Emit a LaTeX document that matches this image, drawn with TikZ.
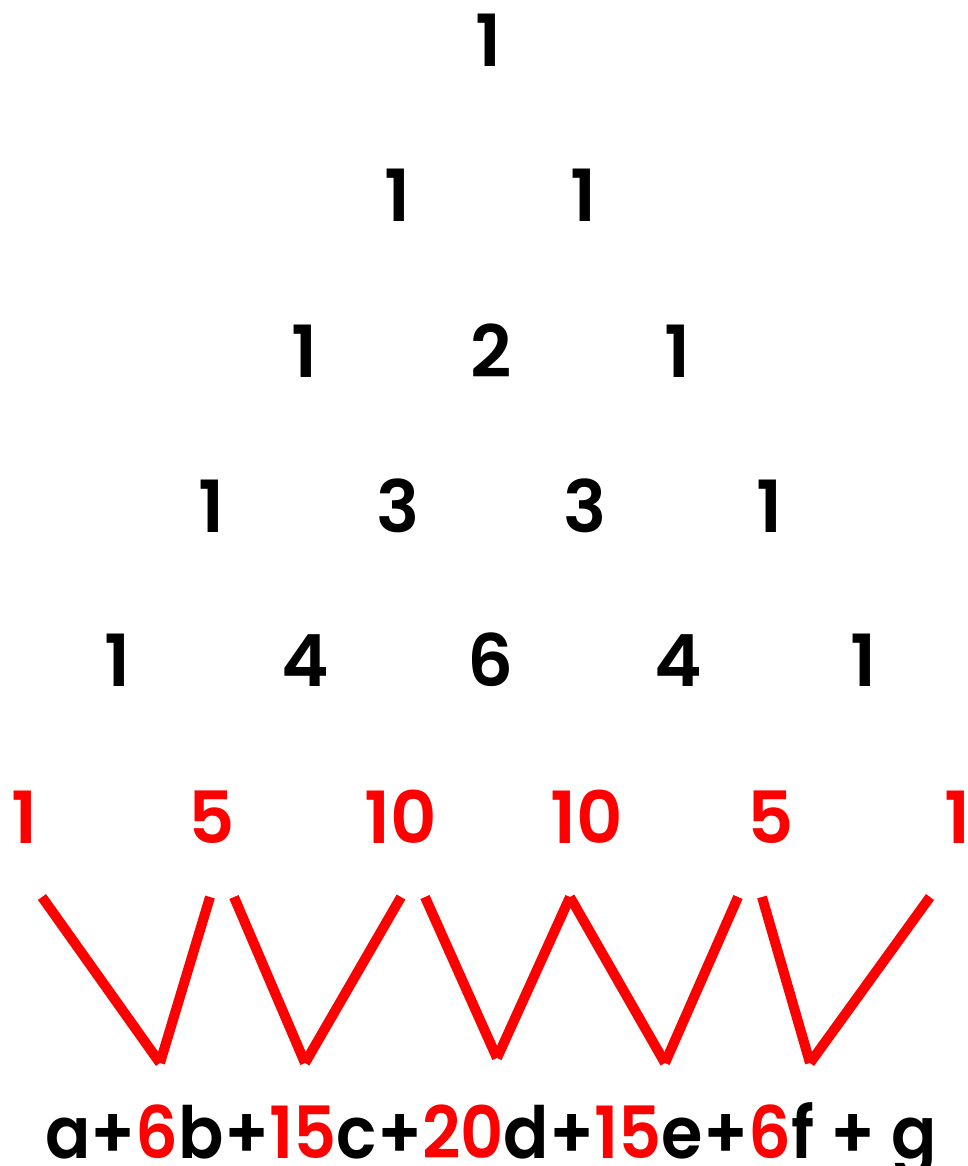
\documentclass[tikz,border=0pt]{standalone}
\usepackage{fontspec}
\usepackage{graphicx}
\setmainfont{Poppins}
\newfontface\popsb{Poppins SemiBold}
\definecolor{pred}{RGB}{255,0,0}
\tikzset{
  num/.style={anchor=base, inner sep=0pt, font=\popsb\fontsize{72}{72}\selectfont},
  rnum/.style={num, text=pred},
  vline/.style={draw=pred, line width=10pt, line cap=butt}
}
\begin{document}
\begin{tikzpicture}[x=1pt,y=1pt]
\useasboundingbox (0,0) rectangle (967,-1166);
% row 1
\node[num] (r1a) at (489,-67) {1};
% row 2
\node[num] (r2a) at (398,-222) {1};
\node[num] (r2b) at (584,-222) {1};
% row 3
\node[num] (r3a) at (305,-377) {1};
\node[num] (r3b) at (491,-377) {2};
\node[num] (r3c) at (678,-377) {1};
% row 4
\node[num] (r4a) at (212,-532) {1};
\node[num] (r4b) at (398,-532) {3};
\node[num] (r4c) at (585,-532) {3};
\node[num] (r4d) at (770,-532) {1};
% row 5
\node[num] (r5a) at (118,-686) {1};
\node[num] (r5b) at (305,-686) {4};
\node[num] (r5c) at (491,-686) {6};
\node[num] (r5d) at (678,-686) {4};
\node[num] (r5e) at (864,-686) {1};
% row 6
\node[rnum] (r6a) at (25,-843) {1};
\node[rnum] (r6b) at (212,-843) {5};
\node[rnum] (r6c) at (401,-843) {10};
\node[rnum] (r6d) at (587,-843) {10};
\node[rnum] (r6e) at (771,-843) {5};
\node[rnum] (r6f) at (958,-843) {1};
% V lines
\coordinate (t1) at (42,-897);
\coordinate (b1) at (160,-1063);
\coordinate (t2) at (210,-897);
\coordinate (t3) at (234,-897);
\coordinate (b2) at (305,-1063);
\coordinate (t4) at (401,-897);
\coordinate (t5) at (425,-897);
\coordinate (b3) at (497,-1058);
\coordinate (t6) at (570,-897);
\coordinate (b4) at (665,-1063);
\coordinate (t7) at (738,-897);
\coordinate (t8) at (762,-897);
\coordinate (b5) at (810,-1063);
\coordinate (t9) at (930,-897);
\draw[vline] (t1) -- (b1);
\draw[vline] (b1) -- (t2);
\draw[vline] (t3) -- (b2);
\draw[vline] (b2) -- (t4);
\draw[vline] (t5) -- (b3);
\draw[vline] (b3) -- (t6);
\draw[vline] (t6) -- (b4);
\draw[vline] (b4) -- (t7);
\draw[vline] (t8) -- (b5);
\draw[vline] (b5) -- (t9);
% bottom formula
\node[num] (expr) at (491,-1158) {\scalebox{0.93}[1]{a+\textcolor{pred}{6}b+\textcolor{pred}{15}c+\textcolor{pred}{20}d+\textcolor{pred}{15}e+\textcolor{pred}{6}f + g}};
\end{tikzpicture}
\end{document}
